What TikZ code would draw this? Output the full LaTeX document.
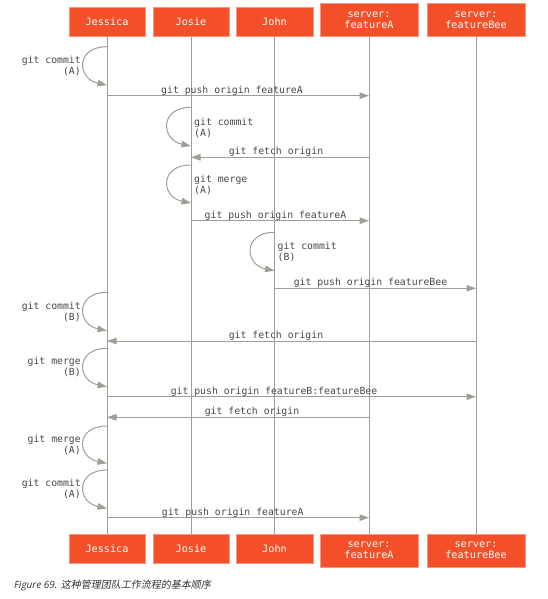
\documentclass[tikz,border=0pt]{standalone}
\usepackage{fontspec}
\setmonofont{DejaVu Sans Mono}
\newfontfamily\capfont{Open Sans}
\newfontfamily\cjkfont[FakeSlant=0.2]{Noto Sans CJK SC}
\usetikzlibrary{arrows.meta}
\definecolor{boxred}{RGB}{243,79,41}
\definecolor{boxedge}{RGB}{247,150,128}
\definecolor{lifegray}{RGB}{161,157,151}
\definecolor{labelgray}{RGB}{72,72,72}
\definecolor{captiongray}{RGB}{50,50,50}

\begin{document}
\begin{tikzpicture}[x=1pt,y=-1pt,
  actor/.style={fill=boxred,draw=boxedge,line width=0.5pt,text=white,
    font=\ttfamily\fontsize{10.2}{11}\selectfont,minimum width=76.5pt,
    minimum height=29.4pt,inner sep=0pt,align=center},
  server/.style={actor,minimum width=97.6pt,minimum height=33.4pt},
  lifeline/.style={draw=lifegray,line width=1pt},
  msg/.style={draw=lifegray,line width=1pt,
    -{Triangle[length=9.5pt,width=6.5pt,fill=lifegray]}},
  msglabel/.style={text=labelgray,font=\ttfamily\fontsize{9.8}{11}\selectfont,
    inner sep=0pt,anchor=base},
  looplabel/.style={text=labelgray,font=\ttfamily\fontsize{9.8}{11}\selectfont,
    inner sep=0pt},
  leftlabel/.style={looplabel,anchor=east,align=right},
  rightlabel/.style={looplabel,anchor=west,align=left}
]
\useasboundingbox (0,0) rectangle (547,599);

% participants, top row
\node[actor,anchor=south]  (jesT) at (107,36.7)   {Jessica};
\node[actor,anchor=south]  (josT) at (191,36.7)   {Josie};
\node[actor,anchor=south]  (johT) at (274.5,36.7) {John};
\node[server,anchor=south] (faT)  at (369,36.7)   {server:\\featureA};
\node[server,anchor=south] (fbT)  at (476,36.7)   {server:\\featureBee};

% participants, bottom row
\node[actor,anchor=north]  (jesB) at (107,533.5)   {Jessica};
\node[actor,anchor=north]  (josB) at (191,533.5)   {Josie};
\node[actor,anchor=north]  (johB) at (274.5,533.5) {John};
\node[server,anchor=north] (faB)  at (369,533.5)   {server:\\featureA};
\node[server,anchor=north] (fbB)  at (476,533.5)   {server:\\featureBee};

% lifelines
\foreach \p in {jes,jos,joh,fa,fb}
  \draw[lifeline] (\p T.south) -- (\p B.north);

% self steps (loops on a lifeline)
\draw[msg] (jesT.south |- 0,46.7) .. controls +(-32,0) and +(-30,-6) .. (jesT.south |- 0,85);
\node[leftlabel] (c1) at (81,66.2) {git commit\\(A)};

\draw[msg] (josT.south |- 0,107.3) .. controls +(-32,0) and +(-30,-6) .. (josT.south |- 0,146);
\node[rightlabel] (c2) at (194,127.7) {git commit\\(A)};

\draw[msg] (josT.south |- 0,165) .. controls +(-32,0) and +(-30,-6) .. (josT.south |- 0,203);
\node[rightlabel] (m1) at (194,184.7) {git merge\\(A)};

\draw[msg] (johT.south |- 0,232.3) .. controls +(-32,0) and +(-30,-6) .. (johT.south |- 0,270.7);
\node[rightlabel] (c3) at (277.5,251.7) {git commit\\(B)};

\draw[msg] (jesT.south |- 0,292.3) .. controls +(-32,0) and +(-30,-6) .. (jesT.south |- 0,330.7);
\node[leftlabel] (c4) at (81,311.7) {git commit\\(B)};

\draw[msg] (jesT.south |- 0,348.3) .. controls +(-32,0) and +(-30,-6) .. (jesT.south |- 0,386.7);
\node[leftlabel] (m2) at (81,367.2) {git merge\\(B)};

\draw[msg] (jesT.south |- 0,426) .. controls +(-32,0) and +(-30,-6) .. (jesT.south |- 0,463.3);
\node[leftlabel] (m3) at (81,445) {git merge\\(A)};

\draw[msg] (jesT.south |- 0,470) .. controls +(-32,0) and +(-30,-6) .. (jesT.south |- 0,508.3);
\node[leftlabel] (c5) at (81,488.8) {git commit\\(A)};

% messages between participants
\draw[msg] (jesT.south |- 0,95.7) -- (faT.south |- 0,95.7);
\node[msglabel] (p1) at (232,93.2) {git push origin featureA};

\draw[msg] (faT.south |- 0,157.3) -- (josT.south |- 0,157.3);
\node[msglabel] (f1) at (276,154.8) {git fetch origin};

\draw[msg] (josT.south |- 0,220.7) -- (faT.south |- 0,220.7);
\node[msglabel] (p2) at (275.5,218.2) {git push origin featureA};

\draw[msg] (johT.south |- 0,288.3) -- (fbT.south |- 0,288.3);
\node[msglabel] (p3) at (370.5,285.8) {git push origin featureBee};

\draw[msg] (fbT.south |- 0,341) -- (jesT.south |- 0,341);
\node[msglabel] (f2) at (276,338.5) {git fetch origin};

\draw[msg] (jesT.south |- 0,396.7) -- (fbT.south |- 0,396.7);
\node[msglabel] (p4) at (274,394.2) {git push origin featureB:featureBee};

\draw[msg] (faT.south |- 0,417.3) -- (jesT.south |- 0,417.3);
\node[msglabel] (f3) at (252,414.8) {git fetch origin};

\draw[msg] (jesT.south |- 0,517.7) -- (faT.south |- 0,517.7);
\node[msglabel] (p5) at (232.7,515.2) {git push origin featureA};

% caption
\node[anchor=west,inner sep=0pt,text=captiongray] (cap) at (14,585)
  {\capfont\itshape\fontsize{10}{12}\selectfont Figure 69. \cjkfont 这种管理团队工作流程的基本顺序};
\end{tikzpicture}
\end{document}
